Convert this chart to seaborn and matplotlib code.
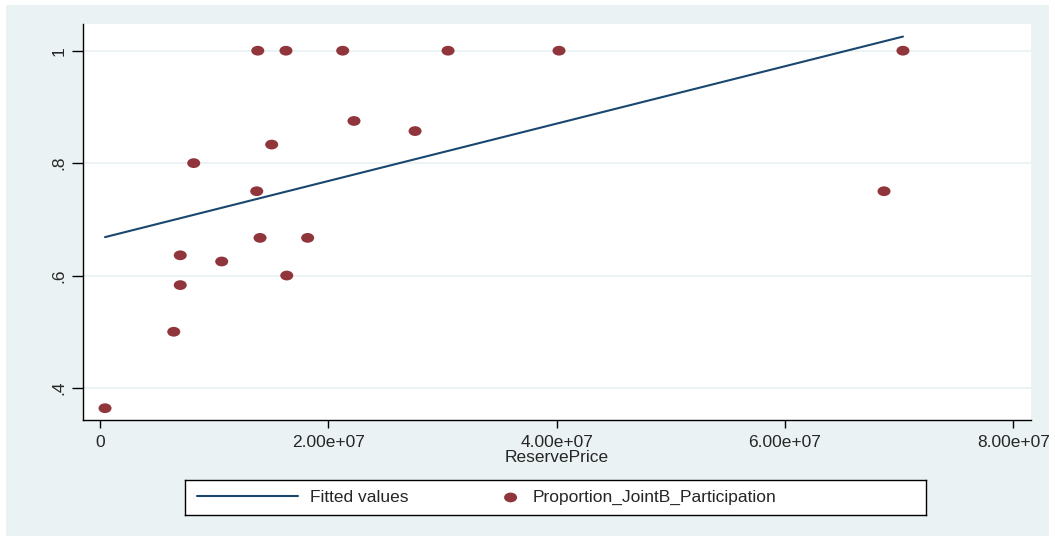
import numpy as np
import matplotlib
matplotlib.use("Agg")
import matplotlib.pyplot as plt
import seaborn as sns
import pandas as pd
from matplotlib.path import Path
from matplotlib.patches import Rectangle
from matplotlib.legend_handler import HandlerPathCollection

# ── Data ─────────────────────────────────────────────────────────────────────
reserve_price = [4.4e5, 6.46e6, 7.03e6, 7.03e6, 8.21e6, 1.066e7, 1.373e7,
                 1.382e7, 1.402e7, 1.504e7, 1.629e7, 1.636e7, 1.819e7,
                 2.126e7, 2.225e7, 2.76e7, 3.049e7, 4.021e7, 6.868e7, 7.034e7]
proportion = [0.364, 0.5, 0.583, 0.636, 0.8, 0.625, 0.75,
              1.0, 0.667, 0.833, 1.0, 0.6, 0.667,
              1.0, 0.875, 0.857, 1.0, 1.0, 0.75, 1.0]

x_ticks = [0, 2e7, 4e7, 6e7, 8e7]
x_tick_labels = ["0", "2.00e+07", "4.00e+07", "6.00e+07", "8.00e+07"]
y_ticks = [0.4, 0.6, 0.8, 1.0]
y_tick_labels = [".4", ".6", ".8", "1"]

df = pd.DataFrame({"ReservePrice": reserve_price,
                   "Proportion_JointB_Participation": proportion})

# ── Style ────────────────────────────────────────────────────────────────────
sns.set_style("white")
plt.rcParams["font.family"] = ["Liberation Sans", "DejaVu Sans"]
FS = 12.5
BG = "#EAF2F3"
NAVY = "#1A476F"
MAROON = "#90353B"

W, H = 1055, 536
fig = plt.figure(figsize=(W / 100, H / 100), dpi=100, facecolor="white")
fig.patches.append(Rectangle((6 / W, 0), (1049 - 6) / W, (H - 5) / H,
                             transform=fig.transFigure, facecolor=BG,
                             edgecolor="none", zorder=-10))

ax = fig.add_axes([82.7 / W, (H - 420) / H, (1030.7 - 82.7) / W, (420 - 24) / H])
ax.set_facecolor("white")

# slightly flattened marker, like the stretched Stata dots
circ = Path.unit_circle()
ellipse = Path(circ.vertices * np.array([1.0, 0.75]), circ.codes)

sns.regplot(data=df, x="ReservePrice", y="Proportion_JointB_Participation",
            scatter=False, ci=None, truncate=True, ax=ax,
            line_kws=dict(color=NAVY, lw=1.5))
fit_line = ax.lines[0]
fit_line.set_label("Fitted values")
sns.scatterplot(data=df, x="ReservePrice", y="Proportion_JointB_Participation",
                marker=ellipse, s=88, color=MAROON, edgecolor="none",
                linewidth=0, ax=ax, legend=False, zorder=3)
dots = ax.collections[-1]
dots.set_label("Proportion_JointB_Participation")

ax.set_xlim(-1.516e6, 8.153e7)
ax.set_ylim(0.343, 1.0475)
ax.set_xticks(x_ticks, x_tick_labels)
ax.set_yticks(y_ticks, y_tick_labels)
ax.tick_params(axis="x", length=6, width=1, color="black", pad=4.5,
               labelsize=FS, direction="out", bottom=True)
ax.tick_params(axis="y", length=8, width=1, color="black", pad=3.5,
               labelsize=FS, direction="out", left=True)
for lbl in ax.get_yticklabels():
    lbl.set_rotation(90)
    lbl.set_va("center")
ax.yaxis.grid(True, color=BG, lw=1.3)
ax.xaxis.grid(False)
ax.set_axisbelow(True)
for side in ["top", "right"]:
    ax.spines[side].set_visible(False)
for side in ["left", "bottom"]:
    ax.spines[side].set_color("black")
    ax.spines[side].set_linewidth(1)
ax.set_xlabel("ReservePrice", fontsize=FS, labelpad=0)
ax.set_ylabel("")

# ── Legend box ───────────────────────────────────────────────────────────────
class EndMarkerHandler(HandlerPathCollection):
    def get_xdata(self, legend, xdescent, ydescent, width, height, fontsize):
        x = -xdescent + width - 0.52 * fontsize
        return [x], [x]

ax_leg = fig.add_axes([185 / W, (H - 515) / H, (926 - 185) / W, 35 / H])
ax_leg.set_facecolor("white")
ax_leg.set_xticks([]); ax_leg.set_yticks([])
for sp in ax_leg.spines.values():
    sp.set_color("black"); sp.set_linewidth(1)
ax_leg.legend([fit_line, dots], [fit_line.get_label(), dots.get_label()],
              loc="center left", bbox_to_anchor=(0, 0.5),
              ncol=2, frameon=False, fontsize=FS, borderpad=0,
              borderaxespad=0.69, handlelength=5.8, handletextpad=0.73,
              columnspacing=0.58,
              handler_map={dots: EndMarkerHandler()})

fig.savefig("out.png", dpi=100)
